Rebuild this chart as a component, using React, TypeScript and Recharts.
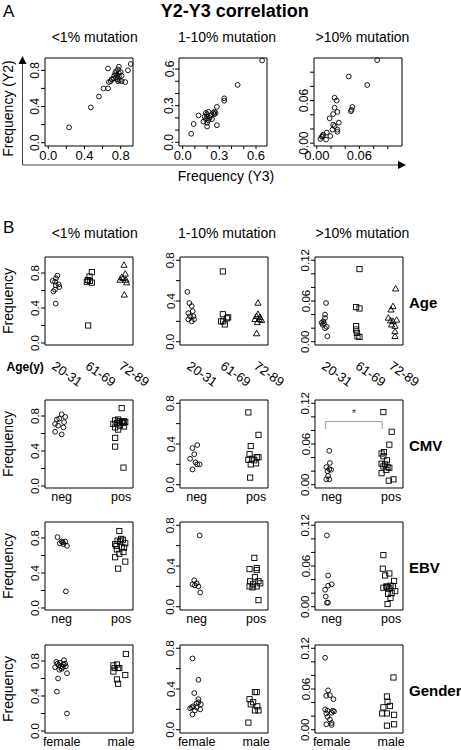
import React from "react";
import { ScatterChart, Scatter, XAxis, YAxis, ReferenceArea, ReferenceLine } from "recharts";

type Pt = [number, number]; // [jitter, frequency]

// ---- labels ----
const binTitles = ["<1% mutation", "1-10% mutation", ">10% mutation"];
const ageGroups = ["20-31", "61-69", "72-89"];
const cmvGroups = ["neg", "pos"];
const genderGroups = ["female", "male"];
const rowNames = ["Age", "CMV", "EBV", "Gender"];

// ---- ticks ----
const ticksLow = [0, 0.2, 0.4, 0.6, 0.8];
const labelsLow = [0, 0.4, 0.8];
const ticksA2 = [0, 0.1, 0.2, 0.3, 0.4, 0.5, 0.6];
const labelsA2 = [0, 0.3, 0.6];
const ticksA3 = [0, 0.02, 0.04, 0.06, 0.08, 0.1];
const labelsA3 = [0, 0.06];
const ticksHigh = [0, 0.02, 0.04, 0.06, 0.08, 0.1, 0.12];
const labelsHigh = [0, 0.06, 0.12];

// ---- panel A: Y3 (x) vs Y2 (y) ----
const a1Y3 = [0.23, 0.47, 0.56, 0.61, 0.66, 0.66, 0.67, 0.69, 0.7, 0.72, 0.73, 0.74, 0.75, 0.75, 0.76, 0.76, 0.77, 0.77, 0.78, 0.78, 0.78, 0.79, 0.8, 0.81, 0.81, 0.85, 0.88, 0.91];
const a1Y2 = [0.17, 0.39, 0.51, 0.6, 0.6, 0.82, 0.67, 0.68, 0.7, 0.71, 0.74, 0.77, 0.72, 0.79, 0.7, 0.75, 0.81, 0.68, 0.73, 0.77, 0.84, 0.69, 0.78, 0.68, 0.74, 0.67, 0.8, 0.87];
const a2Y3 = [0.65, 0.45, 0.34, 0.34, 0.28, 0.28, 0.07, 0.09, 0.13, 0.17, 0.18, 0.19, 0.19, 0.2, 0.2, 0.2, 0.21, 0.21, 0.22, 0.23, 0.24, 0.25, 0.26, 0.26, 0.27, 0.2];
const a2Y2 = [0.67, 0.47, 0.36, 0.34, 0.29, 0.14, 0.07, 0.15, 0.22, 0.17, 0.21, 0.19, 0.24, 0.13, 0.16, 0.21, 0.18, 0.25, 0.2, 0.22, 0.19, 0.24, 0.25, 0.23, 0.24, 0.23];
const a3Y3 = [0.085, 0.045, 0.071, 0.025, 0.028, 0.025, 0.029, 0.05, 0.049, 0.048, 0.023, 0.018, 0.031, 0.023, 0.025, 0.022, 0.029, 0.029, 0.014, 0.019, 0.009, 0.007, 0.005, 0.013, 0.008];
const a3Y2 = [0.117, 0.094, 0.082, 0.064, 0.06, 0.05, 0.044, 0.051, 0.047, 0.045, 0.041, 0.035, 0.029, 0.026, 0.024, 0.019, 0.019, 0.016, 0.015, 0.01, 0.012, 0.009, 0.006, 0.005, 0.01];

// ---- panel B: [jitter, frequency] per group ----
const ageLowYoung: Pt[] = [[-0.1, 0.71], [-0.03, 0.7], [0.04, 0.77], [-0.01, 0.66], [0.08, 0.67], [0.1, 0.64], [-0.08, 0.59], [-0.03, 0.61], [0, 0.74], [-0.01, 0.45]];
const ageLowMid: Pt[] = [[-0.08, 0.7], [-0.05, 0.72], [0, 0.76], [0.07, 0.81], [0.07, 0.69], [0.01, 0.71], [-0.04, 0.2]];
const ageLowOld: Pt[] = [[0.03, 0.89], [0.07, 0.79], [-0.04, 0.75], [0, 0.74], [-0.09, 0.72], [0.11, 0.69], [0.09, 0.72], [0.04, 0.55]];
const ageMidYoung: Pt[] = [[-0.11, 0.49], [-0.05, 0.38], [0.02, 0.35], [0.05, 0.3], [-0.08, 0.28], [-0.03, 0.25], [0.07, 0.25], [-0.08, 0.22], [0.02, 0.2], [0.09, 0.22]];
const ageMidMid: Pt[] = [[-0.05, 0.69], [-0.05, 0.27], [-0.1, 0.2], [0.07, 0.23], [0.01, 0.17], [0.11, 0.24], [-0.04, 0.2]];
const ageMidOld: Pt[] = [[0, 0.38], [0, 0.27], [-0.04, 0.25], [0.06, 0.24], [-0.09, 0.22], [0.11, 0.21], [-0.02, 0.19], [-0.04, 0.08], [0.04, 0.22]];
const ageHighYoung: Pt[] = [[0, 0.057], [-0.03, 0.04], [-0.03, 0.035], [-0.08, 0.03], [-0.13, 0.028], [-0.1, 0.025], [-0.03, 0.02], [0.02, 0.022], [0.04, 0.008], [-0.06, 0.027]];
const ageHighMid: Pt[] = [[0, 0.107], [-0.1, 0.051], [0, 0.049], [-0.1, 0.023], [-0.1, 0.018], [-0.08, 0.013], [-0.06, 0.008], [0, 0.007]];
const ageHighOld: Pt[] = [[0.08, 0.078], [0, 0.052], [-0.06, 0.047], [-0.14, 0.035], [0.11, 0.032], [0, 0.03], [-0.04, 0.025], [0.06, 0.023], [0.06, 0.015], [0.06, 0.008], [-0.07, 0.031]];

const cmvLowNeg: Pt[] = [[0, 0.82], [-0.04, 0.77], [0.06, 0.79], [-0.08, 0.76], [0.04, 0.73], [-0.11, 0.71], [-0.06, 0.69], [0.03, 0.67], [-0.11, 0.62], [0, 0.59]];
const cmvLowPos: Pt[] = [[0.01, 0.89], [-0.1, 0.75], [-0.05, 0.76], [0.01, 0.73], [0.05, 0.74], [-0.13, 0.71], [-0.07, 0.72], [-0.02, 0.69], [0.05, 0.68], [-0.1, 0.67], [-0.05, 0.645], [-0.1, 0.55], [-0.1, 0.45], [0.04, 0.21], [-0.03, 0.74], [0.03, 0.72], [0.07, 0.73]];
const cmvMidNeg: Pt[] = [[0.01, 0.39], [-0.07, 0.36], [-0.04, 0.3], [-0.11, 0.255], [-0.02, 0.22], [0.05, 0.2], [0.01, 0.2], [-0.07, 0.15]];
const cmvMidPos: Pt[] = [[-0.13, 0.71], [0.04, 0.49], [-0.09, 0.38], [-0.11, 0.3], [-0.07, 0.255], [-0.13, 0.245], [0.01, 0.27], [-0.03, 0.24], [0.04, 0.27], [-0.09, 0.2], [0, 0.21], [-0.1, 0.07]];
const cmvHighNeg: Pt[] = [[-0.04, 0.05], [-0.03, 0.032], [-0.09, 0.026], [-0.04, 0.023], [-0.01, 0.022], [-0.07, 0.02], [-0.06, 0.013], [-0.09, 0.008], [-0.04, 0.008]];
const cmvHighPos: Pt[] = [[-0.13, 0.107], [0.01, 0.078], [-0.03, 0.059], [-0.12, 0.048], [-0.16, 0.046], [-0.13, 0.042], [-0.07, 0.036], [-0.16, 0.031], [-0.1, 0.03], [-0.13, 0.027], [-0.06, 0.026], [-0.03, 0.025], [-0.08, 0.022], [-0.16, 0.017], [-0.04, 0.006], [0.04, 0.008]];

const ebvLowNeg: Pt[] = [[-0.07, 0.81], [0, 0.76], [0.06, 0.76], [0.03, 0.73], [0.09, 0.71], [-0.03, 0.74], [0.02, 0.75], [0.07, 0.19]];
const ebvLowPos: Pt[] = [[-0.03, 0.88], [-0.02, 0.76], [-0.1, 0.73], [0.07, 0.74], [0.01, 0.7], [-0.07, 0.67], [0.04, 0.64], [-0.1, 0.58], [0.07, 0.53], [-0.05, 0.45], [-0.06, 0.77], [0.03, 0.78], [0, 0.79], [-0.08, 0.71], [0.05, 0.69], [-0.03, 0.62]];
const ebvMidNeg: Pt[] = [[0.05, 0.7], [-0.04, 0.26], [0, 0.23], [-0.07, 0.22], [0.03, 0.2], [0.06, 0.14], [-0.03, 0.21]];
const ebvMidPos: Pt[] = [[-0.03, 0.48], [-0.11, 0.37], [0.01, 0.36], [0.01, 0.38], [-0.02, 0.29], [-0.1, 0.25], [0.04, 0.25], [-0.05, 0.22], [-0.11, 0.2], [0.01, 0.2], [-0.06, 0.19], [0.04, 0.065], [0.07, 0.23]];
const ebvHighNeg: Pt[] = [[-0.08, 0.105], [-0.06, 0.046], [0, 0.033], [-0.06, 0.031], [-0.11, 0.025], [-0.1, 0.015], [-0.06, 0.006], [-0.08, 0.006]];
const ebvHighPos: Pt[] = [[-0.13, 0.076], [-0.14, 0.056], [-0.03, 0.049], [-0.1, 0.046], [0.05, 0.038], [0.03, 0.03], [-0.07, 0.029], [-0.13, 0.028], [-0.03, 0.027], [0.07, 0.023], [-0.05, 0.019], [0.01, 0.02], [-0.01, 0.013], [-0.06, 0.004], [-0.08, 0.03], [-0.01, 0.031]];

const genderLowF: Pt[] = [[-0.07, 0.77], [0.04, 0.81], [-0.01, 0.74], [0.07, 0.74], [-0.04, 0.7], [0.09, 0.66], [-0.06, 0.6], [-0.08, 0.45], [0.09, 0.2], [0.02, 0.73], [-0.11, 0.73], [0.03, 0.76], [-0.03, 0.78], [0.06, 0.77], [-0.09, 0.79], [0, 0.71], [-0.05, 0.75]];
const genderLowM: Pt[] = [[0.08, 0.88], [-0.13, 0.75], [-0.07, 0.76], [-0.05, 0.72], [-0.13, 0.68], [0.07, 0.64], [-0.07, 0.59], [-0.05, 0.54], [-0.03, 0.72], [-0.11, 0.72]];
const genderMidF: Pt[] = [[-0.07, 0.7], [0.03, 0.49], [-0.04, 0.36], [0.03, 0.3], [0.07, 0.25], [0, 0.26], [-0.06, 0.23], [-0.11, 0.21], [-0.03, 0.19], [-0.07, 0.15], [0.06, 0.2], [-0.08, 0.22], [0, 0.22], [0.03, 0.27]];
const genderMidM: Pt[] = [[-0.11, 0.3], [-0.02, 0.37], [0.01, 0.37], [-0.09, 0.25], [-0.05, 0.27], [0.02, 0.23], [-0.02, 0.19], [0.04, 0.19], [-0.13, 0.07]];
const genderHighF: Pt[] = [[-0.11, 0.106], [-0.06, 0.058], [-0.09, 0.05], [-0.03, 0.051], [0.03, 0.045], [-0.11, 0.03], [-0.07, 0.028], [0.02, 0.028], [0, 0.025], [-0.07, 0.019], [-0.03, 0.015], [0, 0.01], [-0.09, 0.008], [0, 0.007], [-0.09, 0.024], [0.04, 0.027]];
const genderHighM: Pt[] = [[0.04, 0.077], [-0.07, 0.049], [-0.06, 0.041], [-0.02, 0.035], [-0.13, 0.033], [-0.07, 0.024], [-0.15, 0.024], [0.05, 0.022], [0.05, 0.008], [-0.07, 0.006]];

const FONT = "'Liberation Sans', Arial, Helvetica, sans-serif";
const BOX_W = 88;
const BOX_H = 88;
const YW = 42;
const MT = 16;
const MR = 36;
const XH = 46;

const circle = (p: any) => <circle cx={p.cx} cy={p.cy} r={2.4} fill="none" stroke="#000" strokeWidth={0.9} />;
const square = (p: any) => <rect x={p.cx - 2.6} y={p.cy - 2.6} width={5.2} height={5.2} fill="none" stroke="#000" strokeWidth={0.9} />;
const triangle = (p: any) => (
  <path d={`M${p.cx},${p.cy - 3.3}L${p.cx + 3.1},${p.cy + 2.2}L${p.cx - 3.1},${p.cy + 2.2}Z`} fill="none" stroke="#000" strokeWidth={0.9} />
);
const shapes = [circle, square, triangle];

const pairs = (xs: number[], ys: number[]) => xs.map((x, i) => ({ x, y: ys[i] }));
const jit = (g: Pt[], pos: number) => g.map(([j, v]) => ({ x: pos + j, y: v }));
const has = (list: number[], v: number) => list.some((l) => Math.abs(l - v) < 1e-9);

type Mode = "num" | "cat" | "rot";
interface PlotProps {
  left: number;
  top: number;
  xDomain: [number, number];
  yDomain: [number, number];
  xTicks: number[];
  xLabels?: number[];
  names?: string[];
  mode: Mode;
  yTicks: number[];
  yLabels: number[];
  digits: number;
  series: { x: number; y: number }[][];
  bracket?: boolean;
}

function Plot(p: PlotProps) {
  const yTick = (t: any) =>
    has(p.yLabels, t.payload.value) ? (
      <text x={t.x} y={t.y} transform={`rotate(-90 ${t.x} ${t.y})`} textAnchor="middle" fontSize={p.mode === "num" ? 12 : 11.5} fontFamily={FONT} fill="#000">
        {Number(t.payload.value).toFixed(p.digits)}
      </text>
    ) : (
      <g />
    );
  const xTick = (t: any) => {
    const v = t.payload.value;
    if (p.mode === "num") {
      return has(p.xLabels || [], v) ? (
        <text x={t.x} y={t.y} dy="0.75em" textAnchor="middle" fontSize={13} fontFamily={FONT} fill="#000">
          {Number(v).toFixed(p.digits)}
        </text>
      ) : (
        <g />
      );
    }
    const name = (p.names || [])[Math.round(v) - 1];
    if (p.mode === "rot") {
      const x = t.x - 5;
      const y = t.y + 23;
      return (
        <text x={x} y={y} transform={`rotate(35 ${x} ${y})`} fontSize={13} fontFamily={FONT} fill="#000">
          {name}
        </text>
      );
    }
    return (
      <text x={t.x} y={t.y + 12.5} textAnchor="middle" fontSize={12.5} fontFamily={FONT} fill="#000">
        {name}
      </text>
    );
  };
  const isNum = p.mode === "num";
  return (
    <div style={{ position: "absolute", left: p.left - YW, top: p.top - MT }}>
      <ScatterChart width={YW + BOX_W + MR} height={MT + BOX_H + XH} margin={{ top: MT, right: MR, bottom: 0, left: 0 }}>
        <XAxis
          dataKey="x"
          type="number"
          domain={p.xDomain}
          ticks={p.xTicks}
          interval={0}
          height={XH}
          axisLine={false}
          tickLine={isNum ? { stroke: "#000" } : false}
          tickSize={isNum ? 3 : 0}
          tickMargin={isNum ? 1 : 0}
          tick={xTick}
        />
        <YAxis
          dataKey="y"
          type="number"
          domain={p.yDomain}
          ticks={p.yTicks}
          interval={0}
          width={YW}
          axisLine={false}
          tickLine={{ stroke: "#000" }}
          tickSize={4}
          tickMargin={1.5}
          tick={yTick}
        />
        <ReferenceArea x1={p.xDomain[0]} x2={p.xDomain[1]} y1={p.yDomain[0]} y2={p.yDomain[1]} fill="none" fillOpacity={0} stroke="#000" strokeWidth={1} />
        {p.bracket && (
          <ReferenceLine segment={[{ x: 0.9, y: 0.093 }, { x: 1.85, y: 0.093 }]} stroke="#999" label={{ value: "*", position: "top", fontSize: 11, fill: "#333" }} />
        )}
        {p.bracket && <ReferenceLine segment={[{ x: 0.9, y: 0.093 }, { x: 0.9, y: 0.082 }]} stroke="#999" />}
        {p.bracket && <ReferenceLine segment={[{ x: 1.85, y: 0.093 }, { x: 1.85, y: 0.082 }]} stroke="#999" />}
        {p.series.map((s, i) => (
          <Scatter key={i} data={s} shape={shapes[i % 3]} isAnimationActive={false} />
        ))}
      </ScatterChart>
    </div>
  );
}

const aLefts = [45, 179, 314];
const A_TOP = 58;
const bLefts = [45, 180, 315];
const bTops = [257, 400, 522, 645];
const titleX = [94.7, 227, 362.5];

const yDomB: [number, number][] = [
  [-0.023, 0.983],
  [-0.032, 0.832],
  [-0.0048, 0.1248],
];
const yTicksB = [ticksLow, ticksLow, ticksHigh];
const yLabelsB = [labelsLow, labelsLow, labelsHigh];
const digitsB = [1, 1, 2];

const ageRows = [
  [ageLowYoung, ageLowMid, ageLowOld],
  [ageMidYoung, ageMidMid, ageMidOld],
  [ageHighYoung, ageHighMid, ageHighOld],
];
const cmvRows = [
  [cmvLowNeg, cmvLowPos],
  [cmvMidNeg, cmvMidPos],
  [cmvHighNeg, cmvHighPos],
];
const ebvRows = [
  [ebvLowNeg, ebvLowPos],
  [ebvMidNeg, ebvMidPos],
  [ebvHighNeg, ebvHighPos],
];
const genderRows = [
  [genderLowF, genderLowM],
  [genderMidF, genderMidM],
  [genderHighF, genderHighM],
];

export default function App() {
  const bRows = [
    { groups: ageRows, names: ageGroups, mode: "rot" as Mode },
    { groups: cmvRows, names: cmvGroups, mode: "cat" as Mode },
    { groups: ebvRows, names: cmvGroups, mode: "cat" as Mode },
    { groups: genderRows, names: genderGroups, mode: "cat" as Mode },
  ];
  return (
    <div style={{ position: "absolute", left: 0, top: 0, width: 461, height: 750, background: "#fff", fontFamily: FONT }}>
      <svg width={461} height={750} style={{ position: "absolute", left: 0, top: 0 }} fontFamily={FONT}>
        <text x={3} y={16.5} fontSize={17}>A</text>
        <text x={234.7} y={16.5} fontSize={18} fontWeight="bold" textAnchor="middle">Y2-Y3 correlation</text>
        {binTitles.map((t, i) => (
          <text key={"ta" + i} x={titleX[i]} y={42.3} fontSize={14} textAnchor="middle">{t}</text>
        ))}
        <line x1={22.5} y1={63} x2={22.5} y2={165} stroke="#444" strokeWidth={1} />
        <line x1={22.5} y1={165} x2={399} y2={165} stroke="#444" strokeWidth={1} />
        <path d="M22.5,56 L26.5,64 L18.5,64 Z" fill="#000" />
        <path d="M406,165 L398,161 L398,169 Z" fill="#000" />
        <text x={12.5} y={108.5} fontSize={14} textAnchor="middle" transform="rotate(-90 12.5 108.5)">Frequency (Y2)</text>
        <text x={226} y={181} fontSize={14} textAnchor="middle">Frequency (Y3)</text>

        <text x={3} y={233} fontSize={17}>B</text>
        {binTitles.map((t, i) => (
          <text key={"tb" + i} x={titleX[i]} y={238.3} fontSize={14} textAnchor="middle">{t}</text>
        ))}
        <text x={6.5} y={371} fontSize={12} fontWeight="bold">Age(y)</text>
        {bTops.map((t, r) => (
          <g key={"r" + r}>
            <text x={12.5} y={t + BOX_H / 2} fontSize={14} textAnchor="middle" transform={`rotate(-90 12.5 ${t + BOX_H / 2})`}>Frequency</text>
            <text x={409} y={t + BOX_H / 2 + 6.5} fontSize={15} fontWeight="bold">{rowNames[r]}</text>
          </g>
        ))}
      </svg>

      <Plot left={aLefts[0]} top={A_TOP} xDomain={[-0.036, 0.936]} yDomain={[-0.036, 0.936]} xTicks={ticksLow} xLabels={labelsLow} yTicks={ticksLow} yLabels={labelsLow} digits={1} mode="num" series={[pairs(a1Y3, a1Y2)]} />
      <Plot left={aLefts[1]} top={A_TOP} xDomain={[-0.03, 0.69]} yDomain={[-0.03, 0.69]} xTicks={ticksA2} xLabels={labelsA2} yTicks={ticksA2} yLabels={labelsA2} digits={1} mode="num" series={[pairs(a2Y3, a2Y2)]} />
      <Plot left={aLefts[2]} top={A_TOP} xDomain={[-0.004, 0.12]} yDomain={[-0.004, 0.12]} xTicks={ticksA3} xLabels={labelsA3} yTicks={ticksA3} yLabels={labelsA3} digits={2} mode="num" series={[pairs(a3Y3, a3Y2)]} />

      {bRows.map((row, r) =>
        row.groups.map((groups, c) => (
          <Plot
            key={`b${r}-${c}`}
            left={bLefts[c]}
            top={bTops[r]}
            xDomain={row.mode === "rot" ? [0.67, 3.3] : [0.72, 2.2]}
            yDomain={yDomB[c]}
            xTicks={row.names.map((_, i) => i + 1)}
            names={row.names}
            mode={row.mode}
            yTicks={yTicksB[c]}
            yLabels={yLabelsB[c]}
            digits={digitsB[c]}
            series={groups.map((g, i) => jit(g, i + 1))}
            bracket={r === 1 && c === 2}
          />
        ))
      )}
    </div>
  );
}
